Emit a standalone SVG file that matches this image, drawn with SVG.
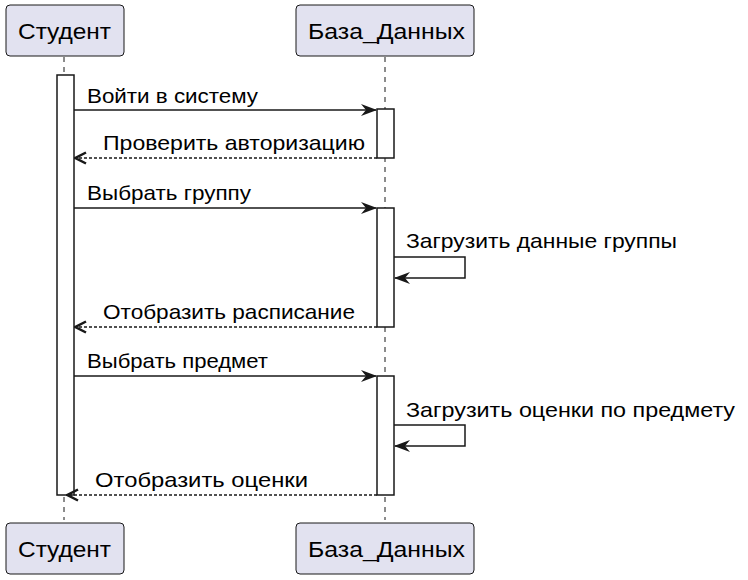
<svg xmlns="http://www.w3.org/2000/svg" width="748" height="580" viewBox="0 0 748 580">
<defs>
<style>
.part rect{fill:#E2E2F0;stroke:#181818;stroke-width:1}
.part text{font-family:"Liberation Sans",Arial,sans-serif;font-size:22px;fill:#000}
.life{stroke:#181818;stroke-width:1;stroke-dasharray:5,5;fill:none}
.act{fill:#fff;stroke:#181818;stroke-width:1.5}
.msg{stroke:#181818;stroke-width:1.5;fill:none}
.ret{stroke:#181818;stroke-width:1.5;fill:none;stroke-dasharray:3,2}
.lbl{font-family:"Liberation Sans",Arial,sans-serif;font-size:21px;fill:#000}
</style>
<marker id="ah" viewBox="0 0 16 12" refX="15" refY="6" markerWidth="16" markerHeight="12" markerUnits="userSpaceOnUse" orient="auto">
<path d="M0,0 L16,6 L0,12 L5,6 Z" fill="#181818"/>
</marker>
<marker id="oh" viewBox="0 0 14 14" refX="13" refY="7" markerWidth="14" markerHeight="14" markerUnits="userSpaceOnUse" orient="auto">
<path d="M2,1.5 L12.5,7 L2,12.5" fill="none" stroke="#181818" stroke-width="2.5"/>
</marker>
</defs>
<g id="lifelines">
<line class="life" x1="64" y1="57" x2="64" y2="520"/>
<line class="life" x1="385" y1="57" x2="385" y2="520"/>
</g>
<g id="activations">
<rect class="act" x="57" y="75" width="17" height="420"/>
<rect class="act" x="377" y="109" width="17" height="49"/>
<rect class="act" x="377" y="208" width="17" height="119"/>
<rect class="act" x="377" y="376" width="17" height="119"/>
</g>
<g id="participant-student-top" class="part">
<rect x="6" y="5" width="118" height="51" rx="4"/>
<text x="18" y="39" textLength="93" lengthAdjust="spacingAndGlyphs">Студент</text>
</g>
<g id="participant-db-top" class="part">
<rect x="296" y="5" width="178" height="51" rx="4"/>
<text x="308" y="39" textLength="157" lengthAdjust="spacingAndGlyphs">База_Данных</text>
</g>
<g id="participant-student-bottom" class="part">
<rect x="6" y="523" width="118" height="51" rx="4"/>
<text x="18" y="557" textLength="93" lengthAdjust="spacingAndGlyphs">Студент</text>
</g>
<g id="participant-db-bottom" class="part">
<rect x="296" y="523" width="178" height="51" rx="4"/>
<text x="308" y="557" textLength="157" lengthAdjust="spacingAndGlyphs">База_Данных</text>
</g>
<g id="connectors">
<line class="msg" x1="74" y1="110" x2="376" y2="110" marker-end="url(#ah)"/>
<text class="lbl" x="87" y="103" textLength="171" lengthAdjust="spacingAndGlyphs">Войти в систему</text>
<line class="ret" x1="377" y1="158" x2="75" y2="158" marker-end="url(#oh)"/>
<text class="lbl" x="103" y="150" textLength="262" lengthAdjust="spacingAndGlyphs">Проверить авторизацию</text>
<line class="msg" x1="74" y1="208" x2="376" y2="208" marker-end="url(#ah)"/>
<text class="lbl" x="87" y="200" textLength="164" lengthAdjust="spacingAndGlyphs">Выбрать группу</text>
<polyline class="msg" points="394,257 465,257 465,278 395,278" marker-end="url(#ah)"/>
<text class="lbl" x="406" y="248" textLength="271" lengthAdjust="spacingAndGlyphs">Загрузить данные группы</text>
<line class="ret" x1="377" y1="327" x2="75" y2="327" marker-end="url(#oh)"/>
<text class="lbl" x="103" y="319" textLength="252" lengthAdjust="spacingAndGlyphs">Отобразить расписание</text>
<line class="msg" x1="74" y1="376" x2="376" y2="376" marker-end="url(#ah)"/>
<text class="lbl" x="87" y="368" textLength="181" lengthAdjust="spacingAndGlyphs">Выбрать предмет</text>
<polyline class="msg" points="394,425 465,425 465,446 395,446" marker-end="url(#ah)"/>
<text class="lbl" x="406" y="417" textLength="329" lengthAdjust="spacingAndGlyphs">Загрузить оценки по предмету</text>
<line class="ret" x1="377" y1="495" x2="67" y2="495" marker-end="url(#oh)"/>
<text class="lbl" x="95" y="487" textLength="213" lengthAdjust="spacingAndGlyphs">Отобразить оценки</text>
</g>
</svg>
